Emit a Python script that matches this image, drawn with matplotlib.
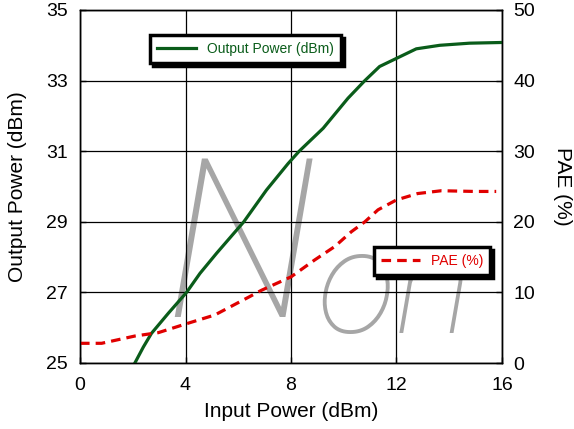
import matplotlib.pyplot as plt
import numpy as np

plt.rcParams['font.family'] = ['Liberation Sans', 'DejaVu Sans']

# input power sweep (dBm) vs output power (dBm)
pin_out = [2.08, 2.4, 2.71, 3.35, 4.04, 4.55, 5.18, 6.21, 7.07, 7.89, 8.31,
           9.22, 10.16, 10.8, 11.36, 12.0, 12.75, 13.64, 14.77, 16.0]
pout = [25.0, 25.45, 25.84, 26.41, 27.0, 27.54, 28.11, 29.0, 29.9, 30.65, 31.0,
        31.65, 32.5, 33.0, 33.4, 33.63, 33.9, 34.0, 34.06, 34.08]

# input power sweep (dBm) vs PAE (%)
pin_pae = [0, 0.82, 2.08, 2.97, 4.0, 5.11, 6.38, 6.88, 8.0, 8.9, 9.66, 10.29,
           10.8, 11.3, 12.0, 12.8, 13.7, 14.96, 15.78]
pae = [2.79, 2.79, 3.82, 4.3, 5.52, 6.8, 9.3, 10.3, 12.2, 14.6, 16.5, 18.6,
       20.0, 21.7, 23.1, 24.0, 24.4, 24.3, 24.3]

green = '#0a5c1a'
red = '#e00000'

fig = plt.figure(figsize=(5.74, 4.29), dpi=100)
ax = fig.add_axes([80/574, 1 - 363/429, 422/574, 353/429])
ax2 = ax.twinx()

# watermark (kept inside the plot area)
ax.text(3.2, 25.02, 'N', fontsize=160, family='Roboto', weight='light', style='italic',
        color='#a6a6a6', va='bottom', zorder=0.4, clip_on=True)
ax.text(9.0, 25.02, 'on', fontsize=105, family='Roboto', weight='light', style='italic',
        color='#a6a6a6', va='bottom', zorder=0.4, clip_on=True)

ax.plot(pin_out, pout, color=green, lw=2.3, zorder=3, label='Output Power (dBm)')
ax2.plot(pin_pae, pae, color=red, lw=2.3, ls=(0, (3, 1.9)), label='PAE (%)')

ax.set_xlim(0, 16)
ax.set_ylim(25, 35)
ax2.set_ylim(0, 50)
ax.set_xticks([0, 4, 8, 12, 16])
ax.set_yticks([25, 27, 29, 31, 33, 35])
ax2.set_yticks([0, 10, 20, 30, 40, 50])
ax.grid(True, color='black', lw=0.9, zorder=1)

for a in (ax, ax2):
    a.tick_params(direction='in', length=4, labelsize=14, width=1)
    for s in a.spines.values():
        s.set_linewidth(1)
ax.tick_params(axis='y', pad=9)
ax.tick_params(axis='x', pad=10)
ax2.tick_params(axis='y', pad=8)

ax.set_xlabel('Input Power (dBm)', fontsize=15)
ax.set_ylabel('Output Power (dBm)', fontsize=15)
ax2.set_ylabel('PAE (%)', fontsize=15, rotation=270, va='bottom')
ax.xaxis.set_label_coords(0.5, -0.11)
ax.yaxis.set_label_coords(-0.125, 0.5)
ax2.yaxis.set_label_coords(1.12, 0.5)

shadow = {'color': 'black', 'alpha': 1}
leg1 = ax2.legend(handles=ax.get_lines(), loc='upper left',
                  bbox_to_anchor=(0.166, 0.929), fontsize=10, fancybox=False,
                  shadow=shadow, handlelength=2.8, borderpad=0.5, borderaxespad=0,
                  labelcolor=green, framealpha=1)
leg1.get_frame().set_edgecolor('black')
leg1.get_frame().set_linewidth(2.5)
ax2.add_artist(leg1)
leg2 = ax2.legend(loc='upper left', bbox_to_anchor=(0.697, 0.329), fontsize=10,
                  fancybox=False, shadow=shadow, handlelength=2.8, borderpad=0.5,
                  borderaxespad=0, labelcolor=red, framealpha=1)
leg2.get_frame().set_edgecolor('black')
leg2.get_frame().set_linewidth(2.5)

fig.savefig('out.png', dpi=100)
